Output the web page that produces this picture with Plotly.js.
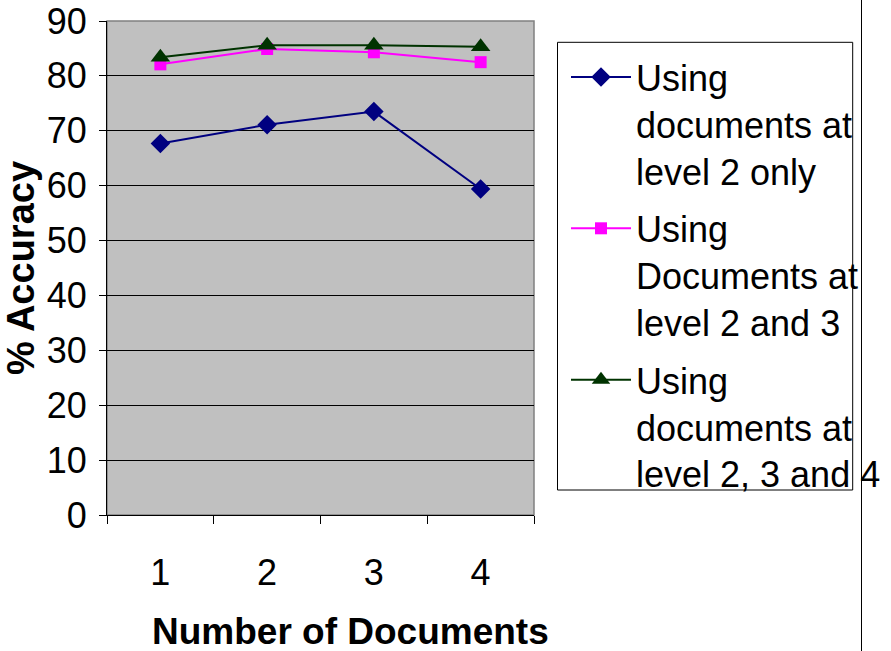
<!DOCTYPE html>
<html>
<head>
<meta charset="utf-8">
<script src="https://cdn.plot.ly/plotly-3.0.1.min.js"></script>
<style>html,body{margin:0;padding:0;background:#fff;}#chart{width:891px;height:651px;}</style>
</head>
<body>
<div id="chart"></div>
<script>
const categories = ["1", "2", "3", "4"];
const level2Only = [67.7, 71.1, 73.5, 59.4];
const level2And3 = [82.1, 84.9, 84.3, 82.5];
const level2To4 = [83.4, 85.6, 85.6, 85.3];
const seriesNames = [
  "Using<br>documents at<br>level 2 only",
  "Using<br>Documents at<br>level 2 and 3",
  "Using<br>documents at<br>level 2, 3 and 4"
];
const yTicks = [0, 10, 20, 30, 40, 50, 60, 70, 80, 90];

const FONT = "Liberation Sans, Arial, sans-serif";

const traces = [
  {x: categories, y: level2Only, name: seriesNames[0], legendgroup: "a", type: "scatter", mode: "lines+markers",
   line: {color: "#000080", width: 2}, marker: {symbol: "diamond", size: 15, color: "#000080"}},
  {x: categories, y: level2And3, name: seriesNames[1], legendgroup: "b", type: "scatter", mode: "lines+markers",
   line: {color: "#FF00FF", width: 2}, marker: {symbol: "square", size: 12, color: "#FF00FF"}},
  {x: categories, y: level2To4, name: seriesNames[2], legendgroup: "c", type: "scatter", mode: "lines+markers",
   line: {color: "#003300", width: 2}, marker: {symbol: "triangle-up", size: 17, color: "#003300"}}
];

const L = 107, T = 21, W = 427, H = 494;
function px(x) { return (x - L) / W; }
function py(y) { return (T + H - y) / H; }

const layout = {
  width: 891, height: 651,
  margin: {l: L, r: 891 - L - W, t: T, b: 651 - T - H, autoexpand: false},
  paper_bgcolor: "#ffffff",
  plot_bgcolor: "#C0C0C0",
  font: {family: FONT, color: "#000", size: 36},
  showlegend: true,
  legend: {
    x: px(566), y: py(47), xanchor: "left", yanchor: "top",
    bgcolor: "rgba(0,0,0,0)", borderwidth: 0, valign: "top",
    font: {family: FONT, size: 36, color: "#000"},
    itemwidth: 60, tracegroupgap: 8
  },
  xaxis: {
    type: "category", range: [-0.5, 3.5], fixedrange: true,
    showline: true, linecolor: "#000", linewidth: 1,
    ticks: "outside", ticklen: 8, tickcolor: "#000", tickson: "boundaries",
    showgrid: false, zeroline: false,
    tickfont: {family: FONT, size: 36, color: "#000"},
    ticklabelstandoff: 26
  },
  yaxis: {
    range: [0, 90], tickvals: yTicks, fixedrange: true,
    showline: true, linecolor: "#000", linewidth: 1,
    ticks: "outside", ticklen: 7, tickcolor: "#000",
    showgrid: true, gridcolor: "#000", gridwidth: 1, zeroline: false,
    tickfont: {family: FONT, size: 36, color: "#000"},
    ticklabelstandoff: 5,
    title: {text: "<b>% Accuracy</b>", font: {family: FONT, size: 38, color: "#000"}, standoff: 2}
  },
  shapes: [
    {type: "rect", xref: "paper", yref: "paper", x0: 0, x1: 1, y0: 0, y1: 1,
     line: {color: "#808080", width: 1.5}, fillcolor: "rgba(0,0,0,0)", layer: "below"},
    {type: "rect", xref: "paper", yref: "paper", x0: px(557.5), x1: px(852.7), y0: py(490), y1: py(42.3),
     line: {color: "#000", width: 1}, fillcolor: "rgba(0,0,0,0)", layer: "above"},
    {type: "line", xref: "paper", yref: "paper", x0: px(861.5), x1: px(861.5), y0: py(651), y1: py(0),
     line: {color: "#000", width: 1}}
  ],
  annotations: [
    {text: "<b>Number of Documents</b>", xref: "paper", yref: "paper", x: px(350.5), y: py(631),
     xanchor: "center", yanchor: "middle", showarrow: false,
     font: {family: FONT, size: 37, color: "#000"}}
  ]
};

Plotly.newPlot("chart", traces, layout, {displayModeBar: false, staticPlot: true});
</script>
</body>
</html>
